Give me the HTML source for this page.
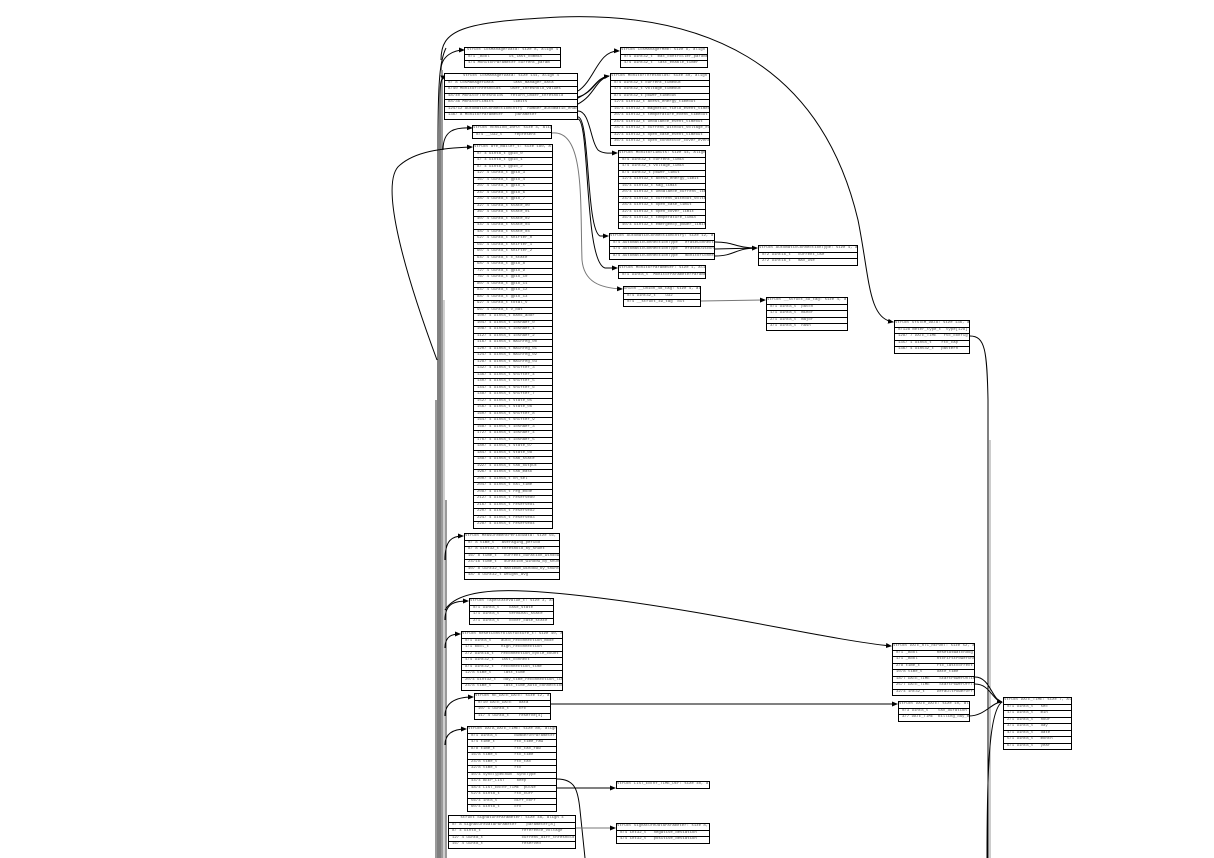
<!DOCTYPE html>
<html><head><meta charset="utf-8">
<style>
html,body{margin:0;padding:0;background:#fff;width:1214px;height:858px;overflow:hidden;position:relative}
.t{position:absolute;border:1px solid #000;background:#fff;font-family:"Liberation Mono",monospace;font-size:4px;color:#555;box-sizing:border-box}
.t div{height:5.5px;line-height:5.5px;border-top:1px solid #000;white-space:nowrap;overflow:hidden;padding-left:3px}
.t div:first-child{border-top:none;text-align:center;padding-left:0}
svg{position:absolute;left:0;top:0}
</style></head><body>
<svg width="1214" height="858" viewBox="0 0 1214 858" fill="none" stroke="#000" stroke-width="1">
<defs><marker id="a" markerWidth="6" markerHeight="6" refX="5" refY="3" orient="auto"><path d="M0,0.5 L6,3 L0,5.5z" fill="#000" stroke="none"/></marker></defs>
<!-- bundle -->
<path d="M438,858 L438,140 C438,80 440,60 446,48"/>
<path d="M440,858 L440,100 C440,80 441,78 446,76" marker-end="url(#a)"/>
<path d="M442,858 L442,70" stroke-width="0.8"/>
<path d="M444,858 L444,300" stroke="#888" stroke-width="0.8"/>
<path d="M436,858 L436,400" stroke-width="0.8"/>
<path d="M446,858 L446,500" stroke-width="0.8"/>
<!-- top arc -->
<path d="M441,60 C441,30 460,22 560,17 C700,12 820,60 858,220 C870,280 868,318 893,322" marker-end="url(#a)"/>
<path d="M441,70 C441,55 455,50 464,50" marker-end="url(#a)"/>
<path d="M443,150 C443,130 455,127 472,128" marker-end="url(#a)"/>
<path d="M437,360 C400,260 380,180 400,165 C415,152 440,148 472,147" marker-end="url(#a)"/>
<!-- lower bundle arrows -->
<path d="M445,560 C445,540 452,536 463,536" marker-end="url(#a)"/>
<path d="M445,620 C445,603 455,601 468,601" marker-end="url(#a)"/>
<path d="M445,648 C445,636 452,634 460,634" marker-end="url(#a)"/>
<path d="M445,716 C445,700 460,697 473,697" marker-end="url(#a)"/>
<path d="M445,745 C445,732 455,729 466,729" marker-end="url(#a)"/>
<path d="M445,610 C460,585 520,588 600,598 C720,613 830,640 891,646" marker-end="url(#a)"/>
<!-- table2 to right -->
<path d="M578,91 C595,80 598,50 619,51" marker-end="url(#a)"/>
<path d="M578,98 C595,90 595,78 609,76" marker-end="url(#a)"/>
<path d="M578,104 C595,95 595,80 609,76"/>
<path d="M578,97 C595,92 595,78 609,76"/>
<path d="M578,111 C590,111 590,140 598,150 C603,154 610,153 617,153" marker-end="url(#a)"/>
<path d="M578,117 C590,117 586,230 600,236 L608,236" marker-end="url(#a)"/>
<path d="M578,119 C590,121 584,262 605,268 L617,268" marker-end="url(#a)"/>
<path d="M552,133 C585,130 580,200 582,260 C584,282 600,288 622,289" marker-end="url(#a)" stroke="#777"/>
<!-- table8 -> 11 -->
<path d="M715,242 C735,242 735,248 757,248"/>
<path d="M715,249 L757,248" marker-end="url(#a)"/>
<path d="M715,256 C735,256 735,248 757,248"/>
<path d="M701,301 L765,300" marker-end="url(#a)" stroke="#777"/>
<!-- right side -->
<path d="M970,336 C985,336 987,350 988,400 L988,858"/>
<path d="M990,440 L990,858" stroke="#999"/>
<path d="M975,677 C990,677 992,700 1002,702" marker-end="url(#a)"/>
<path d="M975,684 C990,684 992,700 1002,702"/>
<path d="M969,716 C985,716 992,702 1002,702"/>
<path d="M987,858 C987,760 990,710 1002,702"/>
<path d="M551,704 L897,704" marker-end="url(#a)"/>
<path d="M557,788 L615,788" marker-end="url(#a)"/>
<path d="M557,779 C575,779 578,790 580,810 L585,858"/>
<path d="M576,828 L615,828" marker-end="url(#a)" stroke="#777"/>
</svg>

<div class="t" style="left:464px;top:47px;width:97px"><div>struct CosManagerData: size 8, align 4</div><div>0/1 _Bool &nbsp;&nbsp;&nbsp;&nbsp;&nbsp;&nbsp;&nbsp;is_last_commit</div><div>4/4 MonitorParameter current_param</div></div>
<div class="t" style="left:444px;top:73px;width:134px"><div>struct CosManagerData: size 144, align 4</div><div>0/ 8 CosManagerData &nbsp;&nbsp;&nbsp;&nbsp;&nbsp;&nbsp;&nbsp;last_manager_data</div><div>8/40 MonitorThresholds &nbsp;&nbsp;&nbsp;user_threshold_values</div><div>48/40 MonitorThresholds &nbsp;&nbsp;return_under_threshold</div><div>88/36 MonitorLimits &nbsp;&nbsp;&nbsp;&nbsp;&nbsp;&nbsp;&nbsp;limits</div><div>124/12 AutomaticConnectionEntry &nbsp;number_automatic_enable</div><div>136/ 8 MonitorParameter &nbsp;&nbsp;&nbsp;&nbsp;parameter</div></div>
<div class="t" style="left:472px;top:125px;width:80px"><div>struct VERSION_INFO: size 4, align 4</div><div>0/4 __u32_t &nbsp;&nbsp;&nbsp;&nbsp;represent</div></div>
<div class="t" style="left:473px;top:144px;width:80px">
<div>struct afe_mailer_t: size 180, align 4</div>
<div>0/ 4 uint8_t gpio_0</div><div>4/ 4 uint8_t gpio_1</div><div>8/ 4 uint8_t gpio_2</div><div>12/ 4 uint8_t gpio_3</div><div>16/ 4 uint8_t gpio_4</div><div>20/ 4 uint8_t gpio_5</div><div>24/ 4 uint8_t gpio_6</div><div>28/ 4 uint8_t gpio_7</div><div>32/ 4 uint8_t state_00</div><div>36/ 4 uint8_t state_01</div><div>40/ 4 uint8_t state_02</div><div>44/ 4 uint8_t state_03</div><div>48/ 4 uint8_t state_04</div><div>52/ 4 uint8_t shifter_0</div><div>56/ 4 uint8_t shifter_1</div><div>60/ 4 uint8_t shifter_2</div><div>64/ 4 uint8_t c_state</div><div>68/ 4 uint8_t gpio_8</div><div>72/ 4 uint8_t gpio_9</div><div>76/ 4 uint8_t gpio_10</div><div>80/ 4 uint8_t gpio_11</div><div>84/ 4 uint8_t gpio_12</div><div>88/ 4 uint8_t gpio_13</div><div>92/ 4 uint8_t total_v</div><div>96/ 4 uint8_t v_bat</div><div>100/ 4 uint8_t bank_addr</div><div>104/ 4 uint8_t ioshaer_0</div><div>108/ 4 uint8_t ioshaer_1</div><div>112/ 4 uint8_t ioshaer_2</div><div>116/ 4 uint8_t mainreg_00</div><div>120/ 4 uint8_t mainreg_01</div><div>124/ 4 uint8_t mainreg_02</div><div>128/ 4 uint8_t mainreg_03</div><div>132/ 4 uint8_t shifter_3</div><div>136/ 4 uint8_t shifter_4</div><div>140/ 4 uint8_t shifter_5</div><div>144/ 4 uint8_t shifter_6</div><div>148/ 4 uint8_t shifter_7</div><div>152/ 4 uint8_t state_05</div><div>156/ 4 uint8_t state_06</div><div>160/ 4 uint8_t shifter_8</div><div>164/ 4 uint8_t shifter_9</div><div>168/ 4 uint8_t ioshaer_3</div><div>172/ 4 uint8_t ioshaer_4</div><div>176/ 4 uint8_t ioshaer_5</div><div>180/ 4 uint8_t state_07</div><div>184/ 4 uint8_t state_08</div><div>188/ 4 uint8_t tab_state</div><div>192/ 4 uint8_t tab_output</div><div>196/ 4 uint8_t tab_mask</div><div>200/ 4 uint8_t ch_sel</div><div>204/ 4 uint8_t cal_time</div><div>208/ 4 uint8_t reg_mode</div><div>212/ 4 uint8_t reserved0</div><div>216/ 4 uint8_t reserved1</div><div>220/ 4 uint8_t reserved2</div><div>224/ 4 uint8_t reserved3</div><div>228/ 4 uint8_t reserved4</div></div>

<div class="t" style="left:620px;top:47px;width:88px"><div>struct CosManagerMem: size 8, align 4</div><div>0/4 uint32_t &nbsp;max_controller_parameter</div><div>4/4 uint32_t &nbsp;last_enable_timer</div></div>
<div class="t" style="left:610px;top:73px;width:100px"><div>struct MonitorThresholds: size 40, align 4</div><div>0/4 uint32_t current_timeout</div><div>4/4 uint32_t voltage_timeout</div><div>8/4 uint32_t power_timeout</div><div>12/4 uint32_t acess_energy_timeout</div><div>16/4 uint32_t magnetic_field_event_timeout</div><div>20/4 uint32_t temperature_event_timeout</div><div>24/4 uint32_t unbalance_event_timeout</div><div>28/4 uint32_t current_without_voltage_event</div><div>32/4 uint32_t open_case_event_timeout</div><div>36/4 uint32_t open_connector_cover_event</div></div>
<div class="t" style="left:618px;top:150px;width:88px"><div>struct MonitorLimits: size 44, align 4</div><div>0/4 uint32_t current_limit</div><div>4/4 uint32_t voltage_limit</div><div>8/4 uint32_t power_limit</div><div>12/4 uint32_t acess_energy_limit</div><div>16/4 uint32_t sag_limit</div><div>20/4 uint32_t unbalance_current_limit</div><div>24/4 uint32_t current_without_voltage</div><div>28/4 uint32_t open_case_limit</div><div>32/4 uint32_t open_cover_limit</div><div>36/4 uint32_t temperature_limit</div><div>40/4 uint32_t emergency_power_limit</div></div>
<div class="t" style="left:609px;top:233px;width:106px"><div>struct AutomaticConnectionEntry: size 12, align 4</div><div>0/4 AutomaticConnectionType &nbsp;&nbsp;eraseConnect</div><div>4/4 AutomaticConnectionType &nbsp;&nbsp;erasedDisconnect</div><div>8/4 AutomaticConnectionType &nbsp;&nbsp;monitorConnect</div></div>
<div class="t" style="left:758px;top:245px;width:100px"><div>struct AutomaticConnectionType: size 4, align 2</div><div>0/2 uint16_t &nbsp;&nbsp;current_use</div><div>2/2 uint16_t &nbsp;&nbsp;max_use</div></div>
<div class="t" style="left:618px;top:265px;width:88px"><div>struct MonitorParameter: size 1, align 1</div><div>0/1 uint8_t &nbsp;MonitorParameterParameter</div></div>
<div class="t" style="left:623px;top:286px;width:78px"><div>union __union_48_tag: size 4, align 4</div><div>0/4 uint32_t &nbsp;&nbsp;&nbsp;u32</div><div>0/4 __struct_49_tag &nbsp;bit</div></div>
<div class="t" style="left:766px;top:297px;width:82px"><div>struct __struct_49_tag: size 4, align 1</div><div>0/1 uint8_t &nbsp;patch</div><div>1/1 uint8_t &nbsp;minor</div><div>2/1 uint8_t &nbsp;major</div><div>3/1 uint8_t &nbsp;hash</div></div>
<div class="t" style="left:894px;top:320px;width:76px"><div>struct SYSTEM_DATA: size 136, align 4</div><div>0/128 meter_type_t &nbsp;type[128]</div><div>128/ 7 DATE_TIME &nbsp;&nbsp;rtc_config</div><div>135/ 1 uint8_t &nbsp;&nbsp;&nbsp;rtc_cap</div><div>136/ 4 uint32_t &nbsp;&nbsp;pattern</div></div>

<div class="t" style="left:464px;top:533px;width:96px"><div>struct MeasurementPeriodData: size 56, align 4</div><div>0/ 8 time_t &nbsp;&nbsp;averaging_period</div><div>8/ 8 uint32_t threshold_by_shunt</div><div>16/ 8 time_t &nbsp;&nbsp;current_duration_window</div><div>24/16 time_t &nbsp;&nbsp;duration_window_by_shunt</div><div>40/ 8 uint32_t maximum_window_by_shunt</div><div>48/ 8 uint32_t weight_avg</div></div>
<div class="t" style="left:469px;top:598px;width:85px"><div>struct TapeStateValue_t: size 3, align 1</div><div>0/1 uint8_t &nbsp;&nbsp;&nbsp;case_state</div><div>1/1 uint8_t &nbsp;&nbsp;&nbsp;terminal_state</div><div>2/1 uint8_t &nbsp;&nbsp;&nbsp;cover_case_state</div></div>
<div class="t" style="left:461px;top:631px;width:102px"><div>struct ResetControlStructure_t: size 40, align 4</div><div>0/1 uint8_t &nbsp;&nbsp;&nbsp;auto_reconnection_mode</div><div>1/1 bool_t &nbsp;&nbsp;&nbsp;&nbsp;high_reconnection</div><div>2/2 uint16_t &nbsp;&nbsp;reconnection_cycle_count</div><div>4/4 uint32_t &nbsp;&nbsp;last_connect</div><div>8/4 uint32_t &nbsp;&nbsp;reconnection_time</div><div>12/8 time_t &nbsp;&nbsp;&nbsp;&nbsp;last_time</div><div>20/4 uint32_t &nbsp;&nbsp;day_time_reconnection_limit</div><div>24/8 time_t &nbsp;&nbsp;&nbsp;&nbsp;last_time_auto_connection_start</div></div>
<div class="t" style="left:474px;top:693px;width:77px"><div>struct RE_DATE_DATE: size 12, align 4</div><div>0/10 DATE_DATE &nbsp;&nbsp;data</div><div>10/ 1 uint8_t &nbsp;&nbsp;&nbsp;crc</div><div>11/ 4 uint8_t &nbsp;&nbsp;&nbsp;reserve[4]</div></div>
<div class="t" style="left:467px;top:726px;width:90px"><div>struct DATA_DATE_TIME: size 80, align 4</div><div>0/1 uint8_t &nbsp;&nbsp;&nbsp;&nbsp;&nbsp;&nbsp;NumberOfParameter</div><div>4/4 time_t &nbsp;&nbsp;&nbsp;&nbsp;&nbsp;&nbsp;&nbsp;rtc_time_raw</div><div>8/8 time_t &nbsp;&nbsp;&nbsp;&nbsp;&nbsp;&nbsp;&nbsp;rtc_tax_raw</div><div>16/8 time_t &nbsp;&nbsp;&nbsp;&nbsp;&nbsp;&nbsp;rtc_time</div><div>24/8 time_t &nbsp;&nbsp;&nbsp;&nbsp;&nbsp;&nbsp;rtc_tax</div><div>32/8 time_t &nbsp;&nbsp;&nbsp;&nbsp;&nbsp;&nbsp;rtc</div><div>40/4 SyncTypeEnum &nbsp;SyncType</div><div>44/4 BEEP_LIST &nbsp;&nbsp;&nbsp;&nbsp;beep</div><div>48/4 LIST_ENTRY_TIME &nbsp;pulse</div><div>52/4 uint8_t &nbsp;&nbsp;&nbsp;&nbsp;&nbsp;rtc_curr</div><div>56/4 int8_t &nbsp;&nbsp;&nbsp;&nbsp;&nbsp;&nbsp;diff_corr</div><div>60/4 uint8_t &nbsp;&nbsp;&nbsp;&nbsp;&nbsp;crc</div></div>
<div class="t" style="left:616px;top:781px;width:94px"><div>struct LIST_ENTRY_TIME_DEF: size 40, align 4</div></div>
<div class="t" style="left:448px;top:815px;width:128px"><div>struct SignatureParameter: size 48, align 4</div><div>0/ 8 SignatureDataParameter &nbsp;&nbsp;&nbsp;parameter[8]</div><div>8/ 4 uint8_t &nbsp;&nbsp;&nbsp;&nbsp;&nbsp;&nbsp;&nbsp;&nbsp;&nbsp;&nbsp;&nbsp;&nbsp;&nbsp;&nbsp;&nbsp;&nbsp;reference_voltage</div><div>12/ 4 uint8_t &nbsp;&nbsp;&nbsp;&nbsp;&nbsp;&nbsp;&nbsp;&nbsp;&nbsp;&nbsp;&nbsp;&nbsp;&nbsp;&nbsp;&nbsp;current_diff_threshold</div><div>16/ 4 uint8_t &nbsp;&nbsp;&nbsp;&nbsp;&nbsp;&nbsp;&nbsp;&nbsp;&nbsp;&nbsp;&nbsp;&nbsp;&nbsp;&nbsp;&nbsp;reserved</div></div>
<div class="t" style="left:616px;top:823px;width:94px"><div>struct SignatureDataParameter: size 8, align 4</div><div>0/4 int32_t &nbsp;&nbsp;negative_deviation</div><div>4/4 int32_t &nbsp;&nbsp;positive_deviation</div></div>

<div class="t" style="left:892px;top:643px;width:83px"><div>struct DATE_RTC_REPORT: size 52, align 1</div><div>0/1 _Bool &nbsp;&nbsp;&nbsp;&nbsp;&nbsp;&nbsp;&nbsp;ResetAsWatchdog</div><div>1/1 _Bool &nbsp;&nbsp;&nbsp;&nbsp;&nbsp;&nbsp;&nbsp;RtcFirstPowerOnFlag</div><div>2/8 time_t &nbsp;&nbsp;&nbsp;&nbsp;&nbsp;&nbsp;rtc_lastcorrect</div><div>10/8 time_t &nbsp;&nbsp;&nbsp;&nbsp;&nbsp;date_time</div><div>18/7 DATE_TIME &nbsp;&nbsp;&nbsp;StartPowerOnTime</div><div>25/7 DATE_TIME &nbsp;&nbsp;&nbsp;StartPowerOffTime</div><div>32/4 int32_t &nbsp;&nbsp;&nbsp;&nbsp;DefaultPowerOffTime</div></div>
<div class="t" style="left:898px;top:701px;width:72px"><div>struct DATE_DATE: size 10, align 1</div><div>0/3 uint8_t &nbsp;&nbsp;&nbsp;tax_duration</div><div>3/7 DATE_TIME &nbsp;billing_day_month</div></div>
<div class="t" style="left:1003px;top:697px;width:69px"><div>struct DATE_TIME: size 7, align 1</div><div>0/1 uint8_t &nbsp;&nbsp;sec</div><div>1/1 uint8_t &nbsp;&nbsp;min</div><div>2/1 uint8_t &nbsp;&nbsp;hour</div><div>3/1 uint8_t &nbsp;&nbsp;day</div><div>4/1 uint8_t &nbsp;&nbsp;date</div><div>5/1 uint8_t &nbsp;&nbsp;month</div><div>6/1 uint8_t &nbsp;&nbsp;year</div></div>
</body></html>
